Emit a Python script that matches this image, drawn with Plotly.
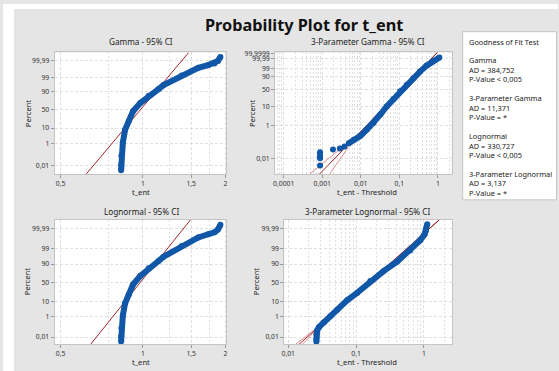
import math
from statistics import NormalDist
import plotly.graph_objects as go

W, H = 559, 371

# ---------------- data ----------------
# 2-parameter panels (Gamma / Lognormal): t_ent vs plotting-position percent
t_ent = [0.832, 0.8325, 0.834, 0.844, 0.86, 0.887, 0.92, 0.978, 1.049, 1.14,
         1.189, 1.385, 1.592, 1.731, 1.824, 1.878, 1.918]
t_ent_pct = [0.003, 0.012, 0.098, 1.23, 8.0, 21.0, 45.5, 68.0, 84.0, 93.2,
             96.3, 99.41, 99.906, 99.956, 99.973, 99.987, 99.9964]

# 3-Parameter Gamma: t_ent - threshold
g3_sparse_x = [0.00088, 0.00088, 0.00088, 0.00088, 0.00088, 0.0019, 0.00287, 0.00379]
g3_sparse_pct = [0.0035, 0.0099, 0.0125, 0.0165, 0.0232, 0.0353, 0.0406, 0.0537]
g3_x = [0.0049, 0.00659, 0.0098, 0.01458, 0.0216, 0.0321, 0.0477, 0.0706, 0.105,
        0.1563, 0.2312, 0.3439, 0.5117, 0.757, 1.093]
g3_pct = [0.0851, 0.136, 0.237, 0.58, 1.41, 4.0, 10.8, 22.9, 44.3, 67.0, 86.7,
          97.04, 99.635, 99.9703, 99.99659]

# 3-Parameter Lognormal: t_ent - threshold
l3_x = [0.02596, 0.02596, 0.02596, 0.02667, 0.02834, 0.03354, 0.04205, 0.05268,
        0.07381, 0.1034, 0.1620, 0.2535, 0.3984, 0.6237, 0.8738, 1.017, 1.070, 1.117]
l3_pct = [0.0027, 0.0071, 0.0205, 0.055, 0.118, 0.35, 1.13, 3.3, 11.5, 24.5, 54.8,
          78.8, 92.5, 98.68, 99.81, 99.952, 99.982, 99.997]

# fitted distributions
gamma_shape, gamma_mean = 100.0, 0.9833
logn_median, logn_sigma = 0.975, 0.0985
g3_shape, g3_log_scale = 2.5, -2.96
g3_ci_pivot, g3_ci_slope = -2.09, 0.29
l3_median, l3_sigma = 0.1514, 0.558
l3_ci_pivot, l3_ci_slope = -3.2, 0.112

# tick labels
pct_ticks = [0.01, 1, 10, 50, 90, 99, 99.99]
pct_ticks_g3 = [0.01, 1, 10, 50, 90, 99, 99.99, 99.9999]
x_ticks_2p = [0.5, 1, 1.5, 2]
x_ticks_g3 = [0.0001, 0.001, 0.01, 0.1, 1]
x_ticks_l3 = [0.01, 0.1, 1]

titles = ["Gamma - 95% CI", "3-Parameter Gamma - 95% CI",
          "Lognormal - 95% CI", "3-Parameter Lognormal - 95% CI"]
gof_title = "Goodness of Fit Test"
gof_groups = [["Gamma", "AD = 384,752", "P-Value < 0,005"],
              ["3-Parameter Gamma", "AD = 11,371", "P-Value = *"],
              ["Lognormal", "AD = 330,727", "P-Value < 0,005"],
              ["3-Parameter Lognormal", "AD = 3,137", "P-Value = *"]]

# ---------------- helpers ----------------
ND = NormalDist()


def gammainc_P(a, x):
    if x <= 0:
        return 0.0
    lg = a * math.log(x) - x - math.lgamma(a)
    if x < a + 1:
        ap, s = a, 1.0 / a
        d = s
        for _ in range(20000):
            ap += 1
            d *= x / ap
            s += d
            if abs(d) < abs(s) * 1e-15:
                break
        return s * math.exp(lg)
    tiny = 1e-300
    b = x + 1 - a
    c, d = 1 / tiny, 1 / b
    h = d
    for i in range(1, 20000):
        an = -i * (i - a)
        b += 2
        d = an * d + b
        if abs(d) < tiny:
            d = tiny
        c = b + an / c
        if abs(c) < tiny:
            c = tiny
        d = 1 / d
        de = d * c
        h *= de
        if abs(de - 1) < 1e-15:
            break
    return 1 - math.exp(lg) * h


def gamma_T(pct, a):
    p = pct / 100.0
    lo, hi = -60.0, 12.0
    for _ in range(120):
        mid = (lo + hi) / 2
        if gammainc_P(a, math.exp(mid)) < p:
            lo = mid
        else:
            hi = mid
    return (lo + hi) / 2


def norm_z(pct):
    return ND.inv_cdf(pct / 100.0)


def fmt(v):
    s = ("%g" % v) if v >= 0.001 else "%.4f" % v
    return s.replace(".", ",")


def linspace(a, b, n):
    return [a + (b - a) * i / (n - 1) for i in range(n)]


def minor_vals(lo_exp, hi_exp, lo, hi):
    out = []
    for e in range(lo_exp, hi_exp + 1):
        for m in range(2, 10):
            v = m * 10.0 ** e
            if lo <= v <= hi:
                out.append(v)
    return out


def px(x):
    return x / W


def py(y):
    return 1 - y / H


BLUE = "#1157a8"
RED = "#a3262a"
CIRED = "#cf7272"
GRID = "#e0e0e0"
FRAME = "#c4c4c4"
FONT = "Noto Sans"

# panels: frame pixel boxes and axis ranges
panels = {
    "tl": dict(xd=(52, 225), yd=(49, 172), xr=[-0.3228, 0.3047],
               yr=[4.1435, 5.0069]),
    "tr": dict(xd=(274, 452), yd=(49, 172), xr=[-4.224, 0.3605],
               yr=[-4.111, 2.93]),
    "bl": dict(xd=(52, 225), yd=(218, 344), xr=[-0.3228, 0.3047],
               yr=[-4.212, 4.327]),
    "br": dict(xd=(283.3, 452.3), yd=(218, 344), xr=[-2.0586, 0.414],
               yr=[-4.212, 4.327]),
}
axis_ids = {"tl": ("x", "y"), "tr": ("x2", "y2"), "bl": ("x3", "y3"), "br": ("x4", "y4")}

fig = go.Figure()


def add(trace, key):
    xa, ya = axis_ids[key]
    trace.update(xaxis=xa, yaxis=ya, showlegend=False, hoverinfo="skip")
    fig.add_trace(trace)


def data_trace(xs, ys, mode="lines+markers"):
    return go.Scatter(x=xs, y=ys, mode=mode,
                      line=dict(color=BLUE, width=6),
                      marker=dict(color=BLUE, size=6, line=dict(width=0)))


# ---- top-left: Gamma ----
r = panels["tl"]["yr"]
Tl = [r[0], r[1]]
add(go.Scatter(x=[gamma_mean / gamma_shape * math.exp(t) for t in Tl], y=Tl,
               mode="lines", line=dict(color=RED, width=1)), "tl")
add(data_trace(t_ent, [gamma_T(p, gamma_shape) for p in t_ent_pct]), "tl")

# ---- top-right: 3-Parameter Gamma ----
r = panels["tr"]["yr"]
Tg = linspace(r[0], r[1], 80)
for sgn in (-1, 1):
    add(go.Scatter(
        x=[math.exp(g3_log_scale + t + sgn * (0.01 + g3_ci_slope * max(0.0, g3_ci_pivot - t)))
           for t in Tg], y=Tg, mode="lines", line=dict(color=CIRED, width=0.8)), "tr")
add(go.Scatter(x=[math.exp(g3_log_scale + t) for t in [r[0], r[1]]], y=[r[0], r[1]],
               mode="lines", line=dict(color=RED, width=1)), "tr")
add(data_trace(g3_sparse_x, [gamma_T(p, g3_shape) for p in g3_sparse_pct], mode="markers"), "tr")
add(data_trace(g3_x, [gamma_T(p, g3_shape) for p in g3_pct]), "tr")

# ---- bottom-left: Lognormal ----
r = panels["bl"]["yr"]
Zl = [r[0], r[1]]
add(go.Scatter(x=[logn_median * math.exp(logn_sigma * z) for z in Zl], y=Zl,
               mode="lines", line=dict(color=RED, width=1)), "bl")
add(data_trace(t_ent, [norm_z(p) for p in t_ent_pct]), "bl")

# ---- bottom-right: 3-Parameter Lognormal ----
r = panels["br"]["yr"]
Zg = linspace(r[0], r[1], 80)
for sgn in (-1, 1):
    add(go.Scatter(
        x=[l3_median * math.exp(l3_sigma * z + sgn * (0.005 + l3_ci_slope * max(0.0, l3_ci_pivot - z)))
           for z in Zg], y=Zg, mode="lines", line=dict(color=CIRED, width=0.8)), "br")
add(go.Scatter(x=[l3_median * math.exp(l3_sigma * z) for z in [r[0], r[1]]], y=[r[0], r[1]],
               mode="lines", line=dict(color=RED, width=1)), "br")
add(data_trace(l3_x, [norm_z(p) for p in l3_pct]), "br")

# ---------------- axes ----------------
tickfont = dict(family=FONT, size=6.8, color="#333333")


def xaxis(key, tv, minors, anchor):
    p = panels[key]
    return dict(domain=[px(p["xd"][0]), px(p["xd"][1])], type="log", range=p["xr"],
                anchor=anchor,
                tickmode="array", tickvals=tv, ticktext=[fmt(v) for v in tv],
                ticks="outside", ticklen=3, tickcolor="#9a9a9a", tickfont=tickfont,
                showgrid=True, gridcolor=GRID, griddash="3px,2px", gridwidth=1,
                minor=dict(tickmode="array", tickvals=minors, showgrid=True,
                           gridcolor=GRID, griddash="2px,2px", gridwidth=1, ticks=""),
                showline=True, mirror=True, linecolor=FRAME, linewidth=1,
                zeroline=False, fixedrange=True)


def yaxis(key, tvals, ttext, anchor):
    p = panels[key]
    return dict(domain=[py(p["yd"][1]), py(p["yd"][0])], range=p["yr"], anchor=anchor,
                tickmode="array", tickvals=tvals, ticktext=ttext,
                ticks="outside", ticklen=3, tickcolor="#9a9a9a", tickfont=tickfont,
                showgrid=True, gridcolor=GRID, griddash="3px,2px", gridwidth=1,
                showline=True, mirror=True, linecolor=FRAME, linewidth=1,
                zeroline=False, fixedrange=True)


lab = [fmt(v) for v in pct_ticks]
lab_g3 = [fmt(v) for v in pct_ticks_g3]

fig.update_layout(
    width=W, height=H, margin=dict(l=0, r=0, t=0, b=0),
    paper_bgcolor="#e5e5e5", plot_bgcolor="white",
    xaxis=xaxis("tl", x_ticks_2p, [0.75, 1.25, 1.75], "y"),
    xaxis2=xaxis("tr", x_ticks_g3, minor_vals(-5, 0, 10 ** -4.224, 10 ** 0.3605), "y2"),
    xaxis3=xaxis("bl", x_ticks_2p, [0.75, 1.25, 1.75], "y3"),
    xaxis4=xaxis("br", x_ticks_l3, minor_vals(-3, 0, 10 ** -2.0586, 10 ** 0.414), "y4"),
    yaxis=yaxis("tl", [gamma_T(p, gamma_shape) for p in pct_ticks], lab, "x"),
    yaxis2=yaxis("tr", [gamma_T(p, g3_shape) for p in pct_ticks_g3], lab_g3, "x2"),
    yaxis3=yaxis("bl", [norm_z(p) for p in pct_ticks], lab, "x3"),
    yaxis4=yaxis("br", [norm_z(p) for p in pct_ticks], lab, "x4"),
)

# white page strips outside the grey panel
fig.add_shape(type="rect", xref="paper", yref="paper", x0=0, x1=px(11), y0=0, y1=1,
              fillcolor="white", line=dict(width=0), layer="below")
fig.add_shape(type="rect", xref="paper", yref="paper", x0=0, x1=1, y0=py(5), y1=1,
              fillcolor="white", line=dict(width=0), layer="below")


def text(t, x, y, size, color="#222222", bold=False, angle=0, xanchor="center"):
    fig.add_annotation(text=("<b>%s</b>" % t) if bold else t, x=px(x), y=py(y),
                       xref="paper", yref="paper", showarrow=False, textangle=angle,
                       xanchor=xanchor, yanchor="middle",
                       font=dict(family=FONT, size=size, color=color))


text("Probability Plot for t_ent", 303, 21, 16.3, color="#111111", bold=True)
text(titles[0], 139, 38, 8.2)
text(titles[1], 367.5, 38, 8.2)
text(titles[2], 139, 210, 8.2)
text(titles[3], 367.5, 210, 8.2)
for xx, yy in ((24.5, 111), (251, 111), (24.5, 281), (255, 281)):
    text("Percent", xx, yy, 7.6, angle=-90)
text("t_ent", 139, 190, 7.6)
text("t_ent - Threshold", 367, 190, 7.6)
text("t_ent", 139, 362, 7.6)
text("t_ent - Threshold", 367, 362, 7.6)

# goodness-of-fit box
fig.add_shape(type="rect", xref="paper", yref="paper", x0=px(463), x1=px(557.5),
              y0=py(198), y1=py(28), fillcolor="white", line=dict(color="#c4c4c4", width=1))
LINE = 9.55
text(gof_title, 467, 38, 7.4, xanchor="left")
for gi, group in enumerate(gof_groups):
    for li, line in enumerate(group):
        text(line, 467, 38 + LINE * (2 + 4 * gi + li), 7.4, xanchor="left")

fig.write_html("out.html")
